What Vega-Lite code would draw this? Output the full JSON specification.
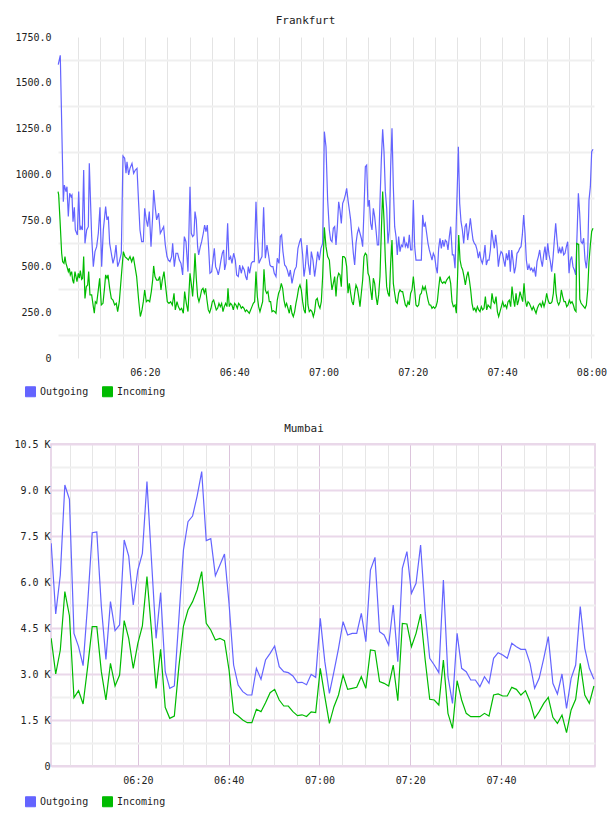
{
  "$schema": "https://vega.github.io/schema/vega-lite/v6.json",
  "background": "white",
  "padding": {"left": 13, "top": 15, "right": 0, "bottom": 0},
  "spacing": 23,
  "config": {
    "font": "DejaVu Sans Mono",
    "axis": {
      "labelFont": "DejaVu Sans Mono",
      "labelFontSize": 10,
      "labelColor": "#222222",
      "domain": false,
      "ticks": false,
      "title": null,
      "labelOverlap": false,
      "labelFlush": false,
      "labelBound": false
    },
    "legend": {
      "labelFont": "DejaVu Sans Mono",
      "labelFontSize": 10,
      "labelColor": "#222222"
    }
  },
  "resolve": {
    "scale": {"x": "independent", "y": "independent", "color": "independent"},
    "legend": {"color": "independent"}
  },
  "datasets": {
    "fraOut": [
      {"m":0.6,"v":1600},{"m":1.05,"v":1650},{"m":1.73,"v":852},{"m":1.96,"v":943},{"m":2.33,"v":907},{"m":2.55,"v":934},{"m":2.85,"v":771},{"m":3.15,"v":898},{"m":3.45,"v":880},{"m":3.67,"v":889},{"m":3.9,"v":743},{"m":4.2,"v":822},{"m":4.42,"v":698},{"m":4.72,"v":680},{"m":4.87,"v":671},{"m":5.17,"v":907},{"m":5.46,"v":698},{"m":5.69,"v":716},{"m":5.99,"v":698},{"m":6.29,"v":1025},{"m":6.58,"v":625},{"m":6.96,"v":698},{"m":7.33,"v":716},{"m":7.55,"v":1061},{"m":8.08,"v":662},{"m":8.45,"v":498},{"m":8.82,"v":580},{"m":9.2,"v":607},{"m":9.57,"v":680},{"m":9.94,"v":822},{"m":10.32,"v":498},{"m":10.69,"v":698},{"m":11.21,"v":825},{"m":11.51,"v":753},{"m":11.81,"v":771},{"m":12.11,"v":625},{"m":12.48,"v":571},{"m":12.85,"v":516},{"m":13.23,"v":553},{"m":13.53,"v":616},{"m":13.9,"v":498},{"m":14.27,"v":525},{"m":14.72,"v":571},{"m":15.09,"v":1101},{"m":15.47,"v":1089},{"m":15.77,"v":1007},{"m":15.99,"v":1070},{"m":16.36,"v":998},{"m":16.66,"v":1034},{"m":17.11,"v":1061},{"m":17.48,"v":1007},{"m":17.86,"v":1025},{"m":18.23,"v":1034},{"m":18.6,"v":843},{"m":18.9,"v":698},{"m":19.28,"v":634},{"m":19.65,"v":634},{"m":19.95,"v":816},{"m":20.32,"v":753},{"m":20.62,"v":716},{"m":20.99,"v":798},{"m":21.37,"v":607},{"m":21.74,"v":771},{"m":21.96,"v":916},{"m":22.34,"v":816},{"m":22.63,"v":753},{"m":23.08,"v":789},{"m":23.45,"v":680},{"m":23.83,"v":698},{"m":24.2,"v":716},{"m":24.57,"v":616},{"m":24.95,"v":553},{"m":25.25,"v":534},{"m":25.62,"v":525},{"m":25.99,"v":553},{"m":26.22,"v":625},{"m":26.59,"v":498},{"m":26.96,"v":571},{"m":27.34,"v":571},{"m":27.71,"v":534},{"m":28.08,"v":516},{"m":28.46,"v":453},{"m":28.83,"v":662},{"m":29.2,"v":634},{"m":29.65,"v":471},{"m":30.1,"v":934},{"m":30.39,"v":680},{"m":30.69,"v":662},{"m":30.99,"v":671},{"m":31.22,"v":798},{"m":31.51,"v":753},{"m":31.81,"v":607},{"m":32.04,"v":562},{"m":32.41,"v":607},{"m":32.71,"v":634},{"m":33.08,"v":680},{"m":33.38,"v":725},{"m":33.68,"v":689},{"m":33.98,"v":725},{"m":34.28,"v":598},{"m":34.57,"v":462},{"m":34.95,"v":471},{"m":35.25,"v":534},{"m":35.55,"v":598},{"m":35.84,"v":498},{"m":36.14,"v":480},{"m":36.44,"v":453},{"m":36.74,"v":489},{"m":37.04,"v":534},{"m":37.34,"v":571},{"m":37.64,"v":589},{"m":37.86,"v":480},{"m":38.16,"v":516},{"m":38.53,"v":734},{"m":38.83,"v":534},{"m":39.2,"v":553},{"m":39.5,"v":516},{"m":39.88,"v":571},{"m":40.25,"v":534},{"m":40.55,"v":453},{"m":40.92,"v":444},{"m":41.22,"v":507},{"m":41.59,"v":462},{"m":41.89,"v":498},{"m":42.26,"v":480},{"m":42.56,"v":444},{"m":42.86,"v":425},{"m":43.16,"v":498},{"m":43.46,"v":462},{"m":43.83,"v":516},{"m":44.13,"v":525},{"m":44.5,"v":525},{"m":44.88,"v":852},{"m":45.18,"v":662},{"m":45.55,"v":516},{"m":45.85,"v":534},{"m":46.22,"v":553},{"m":46.59,"v":822},{"m":46.97,"v":544},{"m":47.34,"v":616},{"m":47.64,"v":571},{"m":48.01,"v":507},{"m":48.31,"v":498},{"m":48.68,"v":498},{"m":48.98,"v":462},{"m":49.36,"v":444},{"m":49.65,"v":544},{"m":50.03,"v":516},{"m":50.33,"v":662},{"m":50.62,"v":671},{"m":50.92,"v":580},{"m":51.3,"v":507},{"m":51.6,"v":498},{"m":51.89,"v":480},{"m":52.27,"v":444},{"m":52.57,"v":480},{"m":52.94,"v":407},{"m":53.24,"v":444},{"m":53.54,"v":480},{"m":53.91,"v":498},{"m":54.28,"v":598},{"m":54.66,"v":634},{"m":54.95,"v":653},{"m":55.33,"v":562},{"m":55.63,"v":444},{"m":55.93,"v":498},{"m":56.3,"v":616},{"m":56.6,"v":516},{"m":56.97,"v":453},{"m":57.27,"v":580},{"m":57.64,"v":534},{"m":58.01,"v":444},{"m":58.31,"v":498},{"m":58.69,"v":580},{"m":59.06,"v":534},{"m":59.43,"v":598},{"m":59.81,"v":625},{"m":60.19,"v":1234},{"m":60.56,"v":1152},{"m":60.93,"v":861},{"m":61.31,"v":698},{"m":61.6,"v":643},{"m":61.9,"v":634},{"m":62.2,"v":707},{"m":62.5,"v":716},{"m":62.8,"v":616},{"m":63.1,"v":716},{"m":63.4,"v":852},{"m":63.69,"v":807},{"m":63.99,"v":734},{"m":64.29,"v":843},{"m":64.59,"v":861},{"m":64.89,"v":889},{"m":65.19,"v":925},{"m":65.49,"v":861},{"m":65.79,"v":807},{"m":66.08,"v":753},{"m":66.38,"v":662},{"m":66.68,"v":571},{"m":66.98,"v":507},{"m":67.28,"v":625},{"m":67.58,"v":680},{"m":67.88,"v":707},{"m":68.17,"v":680},{"m":68.47,"v":653},{"m":68.77,"v":607},{"m":69.07,"v":807},{"m":69.37,"v":1043},{"m":69.67,"v":1052},{"m":69.97,"v":825},{"m":70.26,"v":861},{"m":70.56,"v":734},{"m":70.86,"v":698},{"m":71.16,"v":816},{"m":71.46,"v":771},{"m":71.76,"v":698},{"m":72.06,"v":616},{"m":72.35,"v":616},{"m":72.65,"v":852},{"m":72.95,"v":1080},{"m":73.25,"v":1247},{"m":73.55,"v":1125},{"m":73.85,"v":907},{"m":74.15,"v":816},{"m":74.44,"v":625},{"m":74.74,"v":698},{"m":75.04,"v":1043},{"m":75.34,"v":1252},{"m":75.64,"v":934},{"m":75.94,"v":716},{"m":76.24,"v":662},{"m":76.53,"v":562},{"m":76.83,"v":662},{"m":77.13,"v":580},{"m":77.43,"v":616},{"m":77.73,"v":607},{"m":78.03,"v":662},{"m":78.33,"v":607},{"m":78.62,"v":625},{"m":78.92,"v":598},{"m":79.22,"v":671},{"m":79.52,"v":589},{"m":79.82,"v":589},{"m":80.12,"v":861},{"m":80.42,"v":607},{"m":80.71,"v":534},{"m":81.01,"v":534},{"m":81.31,"v":534},{"m":81.61,"v":534},{"m":81.91,"v":534},{"m":82.21,"v":780},{"m":82.51,"v":716},{"m":82.8,"v":734},{"m":83.1,"v":680},{"m":83.4,"v":625},{"m":83.7,"v":589},{"m":84.0,"v":562},{"m":84.3,"v":534},{"m":84.6,"v":571},{"m":84.9,"v":553},{"m":85.19,"v":498},{"m":85.49,"v":462},{"m":85.79,"v":598},{"m":86.09,"v":653},{"m":86.39,"v":598},{"m":86.69,"v":643},{"m":86.99,"v":607},{"m":87.28,"v":643},{"m":87.58,"v":634},{"m":87.88,"v":589},{"m":88.18,"v":662},{"m":88.48,"v":716},{"m":88.86,"v":562},{"m":89.16,"v":562},{"m":89.46,"v":489},{"m":89.75,"v":753},{"m":90.05,"v":1007},{"m":90.2,"v":1152},{"m":90.5,"v":843},{"m":90.8,"v":743},{"m":91.1,"v":698},{"m":91.4,"v":625},{"m":91.7,"v":716},{"m":91.99,"v":734},{"m":92.29,"v":643},{"m":92.59,"v":698},{"m":92.89,"v":762},{"m":93.19,"v":698},{"m":93.49,"v":643},{"m":93.79,"v":625},{"m":94.08,"v":616},{"m":94.38,"v":589},{"m":94.68,"v":544},{"m":94.98,"v":580},{"m":95.28,"v":534},{"m":95.58,"v":516},{"m":95.88,"v":553},{"m":96.17,"v":616},{"m":96.47,"v":507},{"m":96.77,"v":534},{"m":97.07,"v":534},{"m":97.37,"v":589},{"m":97.67,"v":698},{"m":97.97,"v":643},{"m":98.26,"v":598},{"m":98.56,"v":671},{"m":98.86,"v":607},{"m":99.16,"v":498},{"m":99.46,"v":553},{"m":99.76,"v":580},{"m":100.06,"v":571},{"m":100.35,"v":534},{"m":100.65,"v":498},{"m":100.95,"v":571},{"m":101.25,"v":534},{"m":101.55,"v":589},{"m":101.85,"v":471},{"m":102.15,"v":589},{"m":102.44,"v":534},{"m":102.74,"v":462},{"m":103.04,"v":498},{"m":103.34,"v":571},{"m":103.64,"v":580},{"m":103.94,"v":598},{"m":104.24,"v":607},{"m":104.53,"v":671},{"m":104.83,"v":780},{"m":105.13,"v":680},{"m":105.43,"v":534},{"m":105.73,"v":480},{"m":106.03,"v":507},{"m":106.33,"v":480},{"m":106.62,"v":489},{"m":106.92,"v":471},{"m":107.22,"v":489},{"m":107.52,"v":444},{"m":107.82,"v":525},{"m":108.12,"v":553},{"m":108.42,"v":589},{"m":108.72,"v":534},{"m":109.01,"v":498},{"m":109.31,"v":562},{"m":109.61,"v":607},{"m":109.91,"v":534},{"m":110.21,"v":625},{"m":110.51,"v":562},{"m":110.81,"v":525},{"m":111.1,"v":471},{"m":111.4,"v":544},{"m":111.7,"v":643},{"m":112.0,"v":734},{"m":112.3,"v":643},{"m":112.6,"v":571},{"m":112.9,"v":598},{"m":113.19,"v":571},{"m":113.49,"v":607},{"m":113.79,"v":562},{"m":114.09,"v":571},{"m":114.39,"v":607},{"m":114.69,"v":634},{"m":114.99,"v":462},{"m":115.28,"v":534},{"m":115.58,"v":553},{"m":115.88,"v":498},{"m":116.18,"v":480},{"m":116.48,"v":453},{"m":116.78,"v":671},{"m":117.08,"v":898},{"m":117.37,"v":789},{"m":117.67,"v":634},{"m":117.97,"v":625},{"m":118.27,"v":653},{"m":118.57,"v":534},{"m":118.87,"v":489},{"m":119.17,"v":571},{"m":119.46,"v":861},{"m":119.76,"v":934},{"m":120.06,"v":1125},{"m":120.36,"v":1138}
    ],
    "fraIn": [
      {"m":0.55,"v":907},{"m":0.69,"v":889},{"m":0.99,"v":753},{"m":1.36,"v":571},{"m":1.58,"v":525},{"m":1.88,"v":516},{"m":2.1,"v":553},{"m":2.33,"v":516},{"m":2.55,"v":498},{"m":2.85,"v":471},{"m":3.08,"v":489},{"m":3.3,"v":453},{"m":3.6,"v":471},{"m":3.82,"v":425},{"m":4.05,"v":407},{"m":4.34,"v":471},{"m":4.57,"v":444},{"m":4.79,"v":416},{"m":5.09,"v":462},{"m":5.32,"v":435},{"m":5.54,"v":476},{"m":5.84,"v":429},{"m":6.06,"v":435},{"m":6.29,"v":553},{"m":6.58,"v":325},{"m":6.88,"v":389},{"m":7.18,"v":398},{"m":7.41,"v":471},{"m":7.7,"v":344},{"m":8.08,"v":344},{"m":8.45,"v":280},{"m":8.67,"v":244},{"m":8.9,"v":307},{"m":9.2,"v":298},{"m":9.57,"v":371},{"m":9.87,"v":435},{"m":10.24,"v":289},{"m":10.62,"v":298},{"m":10.99,"v":389},{"m":11.21,"v":453},{"m":11.51,"v":435},{"m":11.74,"v":453},{"m":12.11,"v":380},{"m":12.48,"v":325},{"m":12.85,"v":316},{"m":13.23,"v":289},{"m":13.6,"v":298},{"m":13.9,"v":253},{"m":14.27,"v":307},{"m":14.72,"v":444},{"m":15.17,"v":580},{"m":15.54,"v":553},{"m":15.92,"v":544},{"m":16.29,"v":534},{"m":16.66,"v":553},{"m":17.04,"v":525},{"m":17.41,"v":553},{"m":17.78,"v":498},{"m":18.15,"v":444},{"m":18.6,"v":316},{"m":18.98,"v":226},{"m":19.35,"v":262},{"m":19.65,"v":307},{"m":19.95,"v":371},{"m":20.32,"v":307},{"m":20.69,"v":316},{"m":21.07,"v":307},{"m":21.44,"v":362},{"m":21.74,"v":425},{"m":21.96,"v":502},{"m":22.26,"v":444},{"m":22.63,"v":425},{"m":23.01,"v":425},{"m":23.31,"v":444},{"m":23.6,"v":371},{"m":23.9,"v":425},{"m":24.28,"v":471},{"m":24.65,"v":389},{"m":25.02,"v":307},{"m":25.4,"v":298},{"m":25.77,"v":307},{"m":26.14,"v":289},{"m":26.52,"v":353},{"m":26.81,"v":262},{"m":27.19,"v":307},{"m":27.49,"v":280},{"m":27.86,"v":262},{"m":28.23,"v":271},{"m":28.61,"v":244},{"m":28.9,"v":362},{"m":29.28,"v":298},{"m":29.65,"v":253},{"m":30.1,"v":462},{"m":30.47,"v":389},{"m":30.69,"v":335},{"m":30.99,"v":444},{"m":31.22,"v":571},{"m":31.51,"v":435},{"m":31.81,"v":335},{"m":32.11,"v":307},{"m":32.41,"v":335},{"m":32.71,"v":371},{"m":33.01,"v":380},{"m":33.31,"v":353},{"m":33.6,"v":380},{"m":33.9,"v":316},{"m":34.2,"v":262},{"m":34.5,"v":247},{"m":34.8,"v":271},{"m":35.1,"v":307},{"m":35.4,"v":316},{"m":35.69,"v":289},{"m":35.99,"v":262},{"m":36.29,"v":271},{"m":36.59,"v":298},{"m":36.89,"v":280},{"m":37.19,"v":298},{"m":37.49,"v":253},{"m":37.78,"v":280},{"m":38.08,"v":298},{"m":38.38,"v":280},{"m":38.61,"v":380},{"m":38.9,"v":280},{"m":39.2,"v":298},{"m":39.5,"v":289},{"m":39.8,"v":262},{"m":40.1,"v":298},{"m":40.4,"v":289},{"m":40.7,"v":271},{"m":40.99,"v":298},{"m":41.29,"v":289},{"m":41.59,"v":271},{"m":41.89,"v":280},{"m":42.19,"v":271},{"m":42.49,"v":253},{"m":42.79,"v":262},{"m":43.08,"v":253},{"m":43.38,"v":244},{"m":43.68,"v":262},{"m":43.98,"v":280},{"m":44.28,"v":298},{"m":44.58,"v":307},{"m":44.88,"v":471},{"m":45.18,"v":335},{"m":45.47,"v":280},{"m":45.77,"v":253},{"m":46.07,"v":280},{"m":46.37,"v":307},{"m":46.67,"v":484},{"m":46.97,"v":371},{"m":47.27,"v":353},{"m":47.56,"v":362},{"m":47.86,"v":307},{"m":48.16,"v":307},{"m":48.46,"v":253},{"m":48.76,"v":258},{"m":49.06,"v":253},{"m":49.36,"v":244},{"m":49.65,"v":316},{"m":49.95,"v":353},{"m":50.25,"v":371},{"m":50.55,"v":407},{"m":50.85,"v":380},{"m":51.15,"v":316},{"m":51.45,"v":280},{"m":51.74,"v":298},{"m":52.04,"v":271},{"m":52.34,"v":244},{"m":52.64,"v":289},{"m":52.94,"v":244},{"m":53.24,"v":226},{"m":53.54,"v":253},{"m":53.83,"v":298},{"m":54.13,"v":335},{"m":54.43,"v":380},{"m":54.73,"v":398},{"m":55.03,"v":371},{"m":55.33,"v":307},{"m":55.63,"v":262},{"m":55.93,"v":244},{"m":56.22,"v":429},{"m":56.52,"v":289},{"m":56.82,"v":253},{"m":57.12,"v":262},{"m":57.42,"v":253},{"m":57.72,"v":226},{"m":58.01,"v":253},{"m":58.31,"v":316},{"m":58.61,"v":325},{"m":58.91,"v":289},{"m":59.21,"v":271},{"m":59.51,"v":307},{"m":59.81,"v":444},{"m":60.19,"v":712},{"m":60.56,"v":607},{"m":60.93,"v":553},{"m":61.31,"v":534},{"m":61.6,"v":444},{"m":61.9,"v":371},{"m":62.2,"v":407},{"m":62.5,"v":444},{"m":62.8,"v":335},{"m":63.1,"v":435},{"m":63.4,"v":462},{"m":63.69,"v":453},{"m":63.99,"v":389},{"m":64.29,"v":553},{"m":64.59,"v":553},{"m":64.89,"v":544},{"m":65.19,"v":498},{"m":65.49,"v":353},{"m":65.79,"v":407},{"m":66.08,"v":353},{"m":66.38,"v":307},{"m":66.68,"v":289},{"m":66.98,"v":353},{"m":67.28,"v":398},{"m":67.58,"v":380},{"m":67.88,"v":335},{"m":68.17,"v":280},{"m":68.47,"v":353},{"m":68.77,"v":425},{"m":69.07,"v":553},{"m":69.37,"v":571},{"m":69.67,"v":562},{"m":69.97,"v":462},{"m":70.26,"v":444},{"m":70.56,"v":371},{"m":70.86,"v":316},{"m":71.16,"v":435},{"m":71.46,"v":407},{"m":71.76,"v":335},{"m":72.06,"v":289},{"m":72.35,"v":344},{"m":72.65,"v":444},{"m":72.95,"v":689},{"m":73.25,"v":907},{"m":73.55,"v":753},{"m":73.85,"v":534},{"m":74.15,"v":389},{"m":74.44,"v":353},{"m":74.74,"v":335},{"m":75.04,"v":516},{"m":75.34,"v":643},{"m":75.64,"v":407},{"m":75.94,"v":353},{"m":76.24,"v":307},{"m":76.53,"v":298},{"m":76.83,"v":353},{"m":77.13,"v":371},{"m":77.43,"v":362},{"m":77.73,"v":362},{"m":78.03,"v":325},{"m":78.33,"v":289},{"m":78.62,"v":280},{"m":78.92,"v":307},{"m":79.22,"v":289},{"m":79.52,"v":353},{"m":79.82,"v":371},{"m":80.12,"v":444},{"m":80.42,"v":371},{"m":80.71,"v":289},{"m":81.01,"v":280},{"m":81.31,"v":289},{"m":81.61,"v":344},{"m":81.91,"v":353},{"m":82.21,"v":389},{"m":82.51,"v":371},{"m":82.8,"v":389},{"m":83.1,"v":353},{"m":83.4,"v":316},{"m":83.7,"v":289},{"m":84.0,"v":289},{"m":84.3,"v":271},{"m":84.6,"v":280},{"m":84.9,"v":271},{"m":85.19,"v":280},{"m":85.49,"v":307},{"m":85.79,"v":380},{"m":86.09,"v":444},{"m":86.39,"v":416},{"m":86.69,"v":407},{"m":86.99,"v":416},{"m":87.28,"v":407},{"m":87.58,"v":425},{"m":87.88,"v":435},{"m":88.18,"v":444},{"m":88.48,"v":407},{"m":88.78,"v":307},{"m":89.08,"v":280},{"m":89.46,"v":289},{"m":89.75,"v":244},{"m":90.05,"v":462},{"m":90.28,"v":671},{"m":90.58,"v":534},{"m":90.87,"v":498},{"m":91.17,"v":480},{"m":91.47,"v":444},{"m":91.77,"v":398},{"m":92.07,"v":444},{"m":92.37,"v":471},{"m":92.67,"v":425},{"m":92.96,"v":371},{"m":93.26,"v":298},{"m":93.56,"v":262},{"m":93.86,"v":271},{"m":94.16,"v":253},{"m":94.46,"v":280},{"m":94.76,"v":262},{"m":95.05,"v":253},{"m":95.35,"v":280},{"m":95.65,"v":262},{"m":95.95,"v":271},{"m":96.25,"v":335},{"m":96.55,"v":262},{"m":96.85,"v":289},{"m":97.14,"v":280},{"m":97.44,"v":271},{"m":97.74,"v":353},{"m":98.04,"v":307},{"m":98.34,"v":298},{"m":98.64,"v":335},{"m":98.94,"v":253},{"m":99.23,"v":226},{"m":99.53,"v":253},{"m":99.83,"v":280},{"m":100.13,"v":307},{"m":100.43,"v":280},{"m":100.73,"v":289},{"m":101.03,"v":271},{"m":101.33,"v":307},{"m":101.62,"v":316},{"m":101.92,"v":280},{"m":102.22,"v":389},{"m":102.52,"v":325},{"m":102.82,"v":280},{"m":103.12,"v":353},{"m":103.42,"v":289},{"m":103.71,"v":316},{"m":104.01,"v":362},{"m":104.31,"v":335},{"m":104.61,"v":307},{"m":104.91,"v":407},{"m":105.21,"v":316},{"m":105.51,"v":280},{"m":105.8,"v":307},{"m":106.1,"v":298},{"m":106.4,"v":280},{"m":106.7,"v":262},{"m":107.0,"v":280},{"m":107.3,"v":262},{"m":107.6,"v":244},{"m":107.89,"v":271},{"m":108.19,"v":289},{"m":108.49,"v":298},{"m":108.79,"v":280},{"m":109.09,"v":307},{"m":109.39,"v":280},{"m":109.69,"v":307},{"m":109.98,"v":353},{"m":110.28,"v":316},{"m":110.58,"v":298},{"m":110.88,"v":298},{"m":111.18,"v":307},{"m":111.48,"v":353},{"m":111.78,"v":462},{"m":112.08,"v":353},{"m":112.37,"v":307},{"m":112.67,"v":289},{"m":112.97,"v":307},{"m":113.27,"v":371},{"m":113.57,"v":335},{"m":113.87,"v":307},{"m":114.17,"v":307},{"m":114.46,"v":280},{"m":114.76,"v":289},{"m":115.06,"v":316},{"m":115.36,"v":298},{"m":115.66,"v":307},{"m":115.96,"v":289},{"m":116.26,"v":262},{"m":116.55,"v":253},{"m":116.7,"v":625},{"m":117.15,"v":620},{"m":117.4,"v":320},{"m":117.67,"v":300},{"m":117.97,"v":289},{"m":118.27,"v":280},{"m":118.57,"v":271},{"m":118.87,"v":289},{"m":119.17,"v":371},{"m":119.46,"v":525},{"m":119.76,"v":616},{"m":120.06,"v":690},{"m":120.36,"v":707}
    ],
    "mumbai": [
      {"m":0.9,"o":7261,"i":4163},{"m":1.9,"o":4956,"i":3000},{"m":2.91,"o":6228,"i":3783},{"m":3.91,"o":9163,"i":5685},{"m":4.92,"o":8696,"i":4900},{"m":5.92,"o":4326,"i":2228},{"m":6.93,"o":3891,"i":2456},{"m":7.93,"o":3272,"i":2022},{"m":8.94,"o":5300,"i":3239},{"m":9.94,"o":7609,"i":4543},{"m":10.95,"o":7631,"i":4543},{"m":11.95,"o":5200,"i":3076},{"m":12.96,"o":3478,"i":2152},{"m":13.96,"o":5359,"i":3348},{"m":14.97,"o":4413,"i":2609},{"m":15.97,"o":4598,"i":2967},{"m":16.98,"o":7370,"i":4739},{"m":17.98,"o":6848,"i":4163},{"m":18.98,"o":5250,"i":3185},{"m":19.99,"o":6391,"i":4000},{"m":20.99,"o":6935,"i":4565},{"m":22.0,"o":9272,"i":6174},{"m":23.0,"o":6700,"i":4400},{"m":24.01,"o":4163,"i":2532},{"m":25.01,"o":5652,"i":3804},{"m":26.02,"o":3076,"i":1913},{"m":27.02,"o":2532,"i":1554},{"m":28.03,"o":2609,"i":1630},{"m":29.03,"o":4800,"i":3239},{"m":30.04,"o":7043,"i":4565},{"m":31.04,"o":7968,"i":5087},{"m":32.05,"o":8152,"i":5359},{"m":33.05,"o":8804,"i":5739},{"m":34.06,"o":9598,"i":6337},{"m":35.06,"o":7348,"i":4652},{"m":36.06,"o":7413,"i":4435},{"m":37.07,"o":6207,"i":4109},{"m":38.07,"o":6554,"i":4163},{"m":39.08,"o":6913,"i":4087},{"m":40.08,"o":5300,"i":3130},{"m":41.09,"o":3293,"i":1739},{"m":42.09,"o":2641,"i":1630},{"m":43.1,"o":2424,"i":1500},{"m":44.1,"o":2315,"i":1413},{"m":45.11,"o":2315,"i":1413},{"m":46.11,"o":3185,"i":1848},{"m":47.12,"o":2826,"i":1772},{"m":48.12,"o":3456,"i":2065},{"m":49.13,"o":3674,"i":2391},{"m":50.13,"o":3913,"i":2500},{"m":51.14,"o":3239,"i":2152},{"m":52.14,"o":3076,"i":1956},{"m":53.14,"o":3043,"i":1956},{"m":54.15,"o":2935,"i":1772},{"m":55.15,"o":2717,"i":1641},{"m":56.16,"o":2730,"i":1670},{"m":57.16,"o":2650,"i":1615},{"m":58.17,"o":2990,"i":1765},{"m":59.17,"o":2891,"i":1739},{"m":60.18,"o":4815,"i":3185},{"m":61.18,"o":3402,"i":2261},{"m":62.19,"o":2370,"i":1391},{"m":63.19,"o":3076,"i":1935},{"m":64.2,"o":3837,"i":2315},{"m":65.2,"o":4706,"i":2967},{"m":66.21,"o":4272,"i":2500},{"m":67.21,"o":4326,"i":2532},{"m":68.21,"o":4326,"i":2565},{"m":69.22,"o":4978,"i":2913},{"m":70.22,"o":4054,"i":2532},{"m":71.23,"o":6391,"i":3783},{"m":72.23,"o":6804,"i":3761},{"m":73.24,"o":4380,"i":2750},{"m":74.24,"o":4272,"i":2696},{"m":75.25,"o":3946,"i":2609},{"m":76.25,"o":5250,"i":3293},{"m":77.26,"o":3402,"i":2130},{"m":78.26,"o":6446,"i":4652},{"m":79.27,"o":6989,"i":4630},{"m":80.27,"o":5630,"i":3891},{"m":81.28,"o":5957,"i":4326},{"m":82.28,"o":7207,"i":4956},{"m":83.29,"o":5000,"i":3456},{"m":84.29,"o":3511,"i":2174},{"m":85.29,"o":3293,"i":2152},{"m":86.3,"o":3043,"i":1989},{"m":87.3,"o":6065,"i":3456},{"m":88.31,"o":2913,"i":1717},{"m":89.31,"o":2043,"i":1228},{"m":90.32,"o":4326,"i":2782},{"m":91.32,"o":3185,"i":2152},{"m":92.33,"o":3076,"i":1717},{"m":93.33,"o":2804,"i":1609},{"m":94.34,"o":2804,"i":1609},{"m":95.34,"o":2587,"i":1609},{"m":96.35,"o":2913,"i":1717},{"m":97.35,"o":2696,"i":1630},{"m":98.36,"o":3511,"i":2315},{"m":99.36,"o":3696,"i":2348},{"m":100.37,"o":3620,"i":2283},{"m":101.37,"o":3511,"i":2283},{"m":102.37,"o":4000,"i":2565},{"m":103.38,"o":3891,"i":2500},{"m":104.38,"o":3804,"i":2315},{"m":105.39,"o":3804,"i":2456},{"m":106.39,"o":3348,"i":2098},{"m":107.4,"o":2532,"i":1554},{"m":108.4,"o":2859,"i":1772},{"m":109.41,"o":3511,"i":2043},{"m":110.41,"o":4217,"i":2239},{"m":111.42,"o":2696,"i":1587},{"m":112.42,"o":2348,"i":1391},{"m":113.43,"o":3000,"i":1663},{"m":114.43,"o":1880,"i":1087},{"m":115.44,"o":2859,"i":1826},{"m":116.44,"o":3293,"i":2174},{"m":117.45,"o":5196,"i":3348},{"m":118.45,"o":3837,"i":2315},{"m":119.45,"o":3185,"i":2043},{"m":120.46,"o":2826,"i":2609}
    ]
  },
  "vconcat": [
    {
      "title": {"text": "Frankfurt", "font": "DejaVu Sans Mono", "fontSize": 11, "fontWeight": "normal", "color": "#222222", "anchor": "middle", "frame": "group", "dx": -17, "offset": 6},
      "width": 543,
      "height": 321,
      "view": {"stroke": null},
      "encoding": {
        "x": {
          "field": "m", "type": "quantitative",
          "scale": {"domain": [0.54, 120.58], "range": [7, 543], "nice": false, "zero": false},
          "axis": {
            "values": [5,10,15,20,25,30,35,40,45,50,55,60,65,70,75,80,85,90,95,100,105,110,115,120],
            "labelExpr": "datum.value % 20 ? '' : timeFormat(datetime(2024, 0, 1, 6, datum.value), '%H:%M')",
            "labelPadding": 9,
            "gridColor": "#e4e4e4",
            "gridWidth": 1
          }
        },
        "y": {
          "field": "v", "type": "quantitative",
          "scale": {"domain": [0, 1750], "nice": false},
          "axis": {
            "values": [0,125,250,375,500,625,750,875,1000,1125,1250,1375,1500,1625,1750],
            "labelExpr": "datum.value % 250 ? '' : (datum.value === 0 ? '0' : format(datum.value, '.1f'))",
            "labelPadding": 0,
            "gridColor": {"condition": {"test": "datum.value % 250 === 125", "value": "#efefef"}, "value": "transparent"},
            "gridWidth": 2
          }
        }
      },
      "layer": [
        {
          "data": {"name": "fraOut"},
          "mark": {"type": "line", "strokeWidth": 1.2, "clip": true},
          "encoding": {
            "color": {
              "datum": "Outgoing", "type": "nominal",
              "scale": {"domain": ["Outgoing", "Incoming"], "range": ["#6464ff", "#00bb00"]},
              "legend": {
                "orient": "none", "legendX": -26, "legendY": 349, "direction": "horizontal", "title": null,
                "symbolType": "square", "symbolSize": 100, "symbolStrokeWidth": 1,
                "labelOffset": 4, "columnPadding": 11, "padding": 0,
                "encode": {"symbols": {"update": {"fill": {"signal": "datum.value === 'Outgoing' ? '#6464ff' : '#00bb00'"}, "fillOpacity": {"value": 1}, "stroke": {"value": "#8c8c8c"}}}}
              }
            }
          }
        },
        {
          "data": {"name": "fraIn"},
          "mark": {"type": "line", "strokeWidth": 1.2, "clip": true},
          "encoding": {"color": {"datum": "Incoming", "type": "nominal"}}
        }
      ]
    },
    {
      "title": {"text": "Mumbai", "font": "DejaVu Sans Mono", "fontSize": 11, "fontWeight": "normal", "color": "#222222", "anchor": "middle", "frame": "group", "dx": -19, "offset": 5},
      "width": 544,
      "height": 322,
      "view": {"stroke": "#e2cce2", "strokeWidth": 1.5},
      "data": {"name": "mumbai"},
      "encoding": {
        "x": {
          "field": "m", "type": "quantitative",
          "scale": {"domain": [0.86, 120.7], "nice": false, "zero": false},
          "axis": {
            "values": [5,10,15,20,25,30,35,40,45,50,55,60,65,70,75,80,85,90,95,100,105,110,115],
            "labelExpr": "datum.value % 20 ? '' : timeFormat(datetime(2024, 0, 1, 6, datum.value), '%H:%M')",
            "labelPadding": 9,
            "gridColor": {"condition": {"test": "datum.value % 20 === 0", "value": "#dcc4dc"}, "value": "#e6e6e6"},
            "gridWidth": 1
          }
        },
        "y": {
          "type": "quantitative",
          "scale": {"domain": [0, 10500], "nice": false},
          "axis": {
            "values": [0,750,1500,2250,3000,3750,4500,5250,6000,6750,7500,8250,9000,9750,10500],
            "labelExpr": "datum.value % 1500 ? '' : (datum.value === 0 ? '0' : format(datum.value / 1000, '.1f') + ' K')",
            "labelPadding": 1,
            "gridColor": {"condition": {"test": "datum.value % 1500 === 0", "value": "#ead8ea"}, "value": "#f0f0f0"},
            "gridWidth": 2
          }
        }
      },
      "layer": [
        {
          "mark": {"type": "line", "strokeWidth": 1.2, "clip": true},
          "encoding": {
            "y": {"field": "o", "type": "quantitative"},
            "color": {
              "datum": "Outgoing", "type": "nominal",
              "scale": {"domain": ["Outgoing", "Incoming"], "range": ["#6464ff", "#00bb00"]},
              "legend": {
                "orient": "none", "legendX": -26, "legendY": 352, "direction": "horizontal", "title": null,
                "symbolType": "square", "symbolSize": 100, "symbolStrokeWidth": 1,
                "labelOffset": 4, "columnPadding": 11, "padding": 0,
                "encode": {"symbols": {"update": {"fill": {"signal": "datum.value === 'Outgoing' ? '#6464ff' : '#00bb00'"}, "fillOpacity": {"value": 1}, "stroke": {"value": "#8c8c8c"}}}}
              }
            }
          }
        },
        {
          "mark": {"type": "line", "strokeWidth": 1.2, "clip": true},
          "encoding": {
            "y": {"field": "i", "type": "quantitative"},
            "color": {"datum": "Incoming", "type": "nominal"}
          }
        }
      ]
    }
  ]
}
